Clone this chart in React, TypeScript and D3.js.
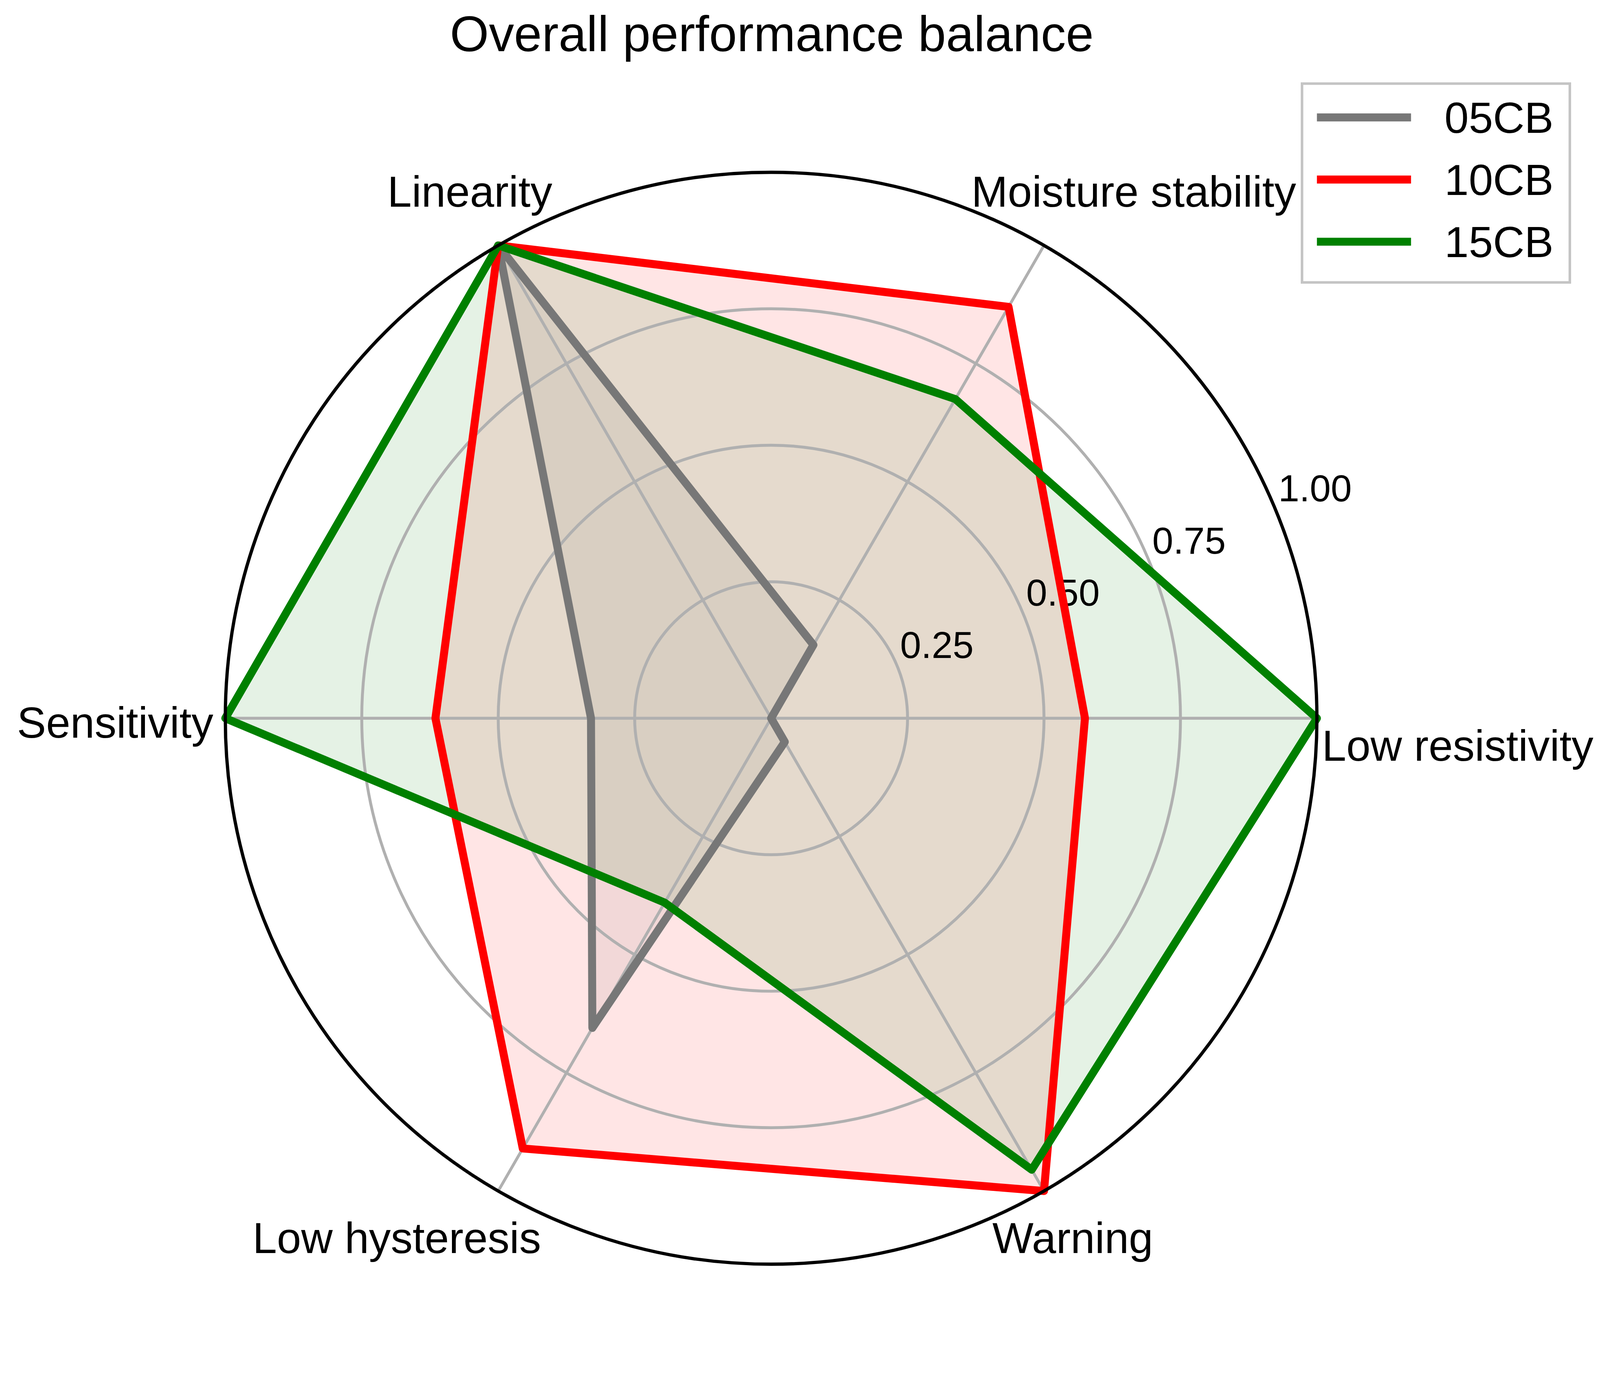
import React from "react";
import * as d3 from "d3";

// axis names, counter-clockwise from 3 o'clock
const categories = [
  "Low resistivity",
  "Moisture stability",
  "Linearity",
  "Sensitivity",
  "Low hysteresis",
  "Warning",
];

const seriesNames = ["05CB", "10CB", "15CB"];
const values05CB = [0.0, 0.155, 1.0, 0.33, 0.655, 0.05];
const values10CB = [0.575, 0.87, 1.0, 0.615, 0.91, 1.0];
const values15CB = [1.0, 0.675, 1.0, 1.0, 0.39, 0.955];
const radialTicks = [0.25, 0.5, 0.75, 1.0];

const seriesColors = ["#777777", "#ff0000", "#008000"];

// where each axis label sits relative to its spoke end (px)
const labelLayout = [
  { anchor: "start", dx: 14, dy: 117 },
  { anchor: "middle", dx: 247, dy: -107 },
  { anchor: "middle", dx: -78, dy: -107 },
  { anchor: "end", dx: -33, dy: 54 },
  { anchor: "middle", dx: -279, dy: 171 },
  { anchor: "middle", dx: 79, dy: 171 },
];

const FONT = "'Liberation Sans', Arial, sans-serif";

export default function App() {
  const width = 4403;
  const height = 3514;
  const cx = 2122;
  const cy = 1976;
  const R = 1502;
  const lineW = 22;

  const rScale = d3.scaleLinear().domain([0, 1]).range([0, R]);
  const n = categories.length;
  // math angle (ccw from east)
  const theta = (i: number) => (i * 2 * Math.PI) / n;
  const px = (i: number, v: number) => cx + rScale(v) * Math.cos(theta(i));
  const py = (i: number, v: number) => cy - rScale(v) * Math.sin(theta(i));

  const radial = d3
    .lineRadial<number>()
    .angle((_, i) => Math.PI / 2 - theta(i))
    .radius((d) => rScale(d))
    .curve(d3.curveLinearClosed);

  const allSeries = [values05CB, values10CB, values15CB];
  const tickAngle = (22.5 * Math.PI) / 180;

  return (
    <svg
      viewBox={`0 0 ${width} ${height}`}
      preserveAspectRatio="xMinYMin meet"
      style={{ position: "fixed", left: 0, top: 0, width: "100vw", height: "100vh", background: "#fff" }}
      fontFamily={FONT}
    >
      <rect width={width} height={height} fill="#fff" />
      <text x={2124} y={141} fontSize={138} textAnchor="middle" fill="#000">
        Overall performance balance
      </text>

      {/* translucent fills sit under the grid */}
      <g transform={`translate(${cx},${cy})`}>
        {allSeries.map((vals, s) => (
          <path
            key={"f" + seriesNames[s]}
            d={radial(vals) || ""}
            fill={seriesColors[s]}
            fillOpacity={0.1}
            stroke="none"
          />
        ))}
      </g>

      {/* grid circles */}
      {radialTicks.slice(0, -1).map((t) => (
        <circle key={t} cx={cx} cy={cy} r={rScale(t)} fill="none" stroke="#b0b0b0" strokeWidth={8} />
      ))}
      {/* spokes */}
      {categories.map((c, i) => (
        <line
          key={c}
          x1={cx}
          y1={cy}
          x2={px(i, 1)}
          y2={py(i, 1)}
          stroke="#b0b0b0"
          strokeWidth={8}
        />
      ))}

      {/* radial tick labels */}
      {radialTicks.map((t) => (
        <text
          key={"t" + t}
          x={cx + rScale(t) * Math.cos(tickAngle) + 8}
          y={cy - rScale(t) * Math.sin(tickAngle) - 22}
          fontSize={104}
          fill="#000"
        >
          {t.toFixed(2)}
        </text>
      ))}

      {/* outlines */}
      <g transform={`translate(${cx},${cy})`}>
        {allSeries.map((vals, s) => (
          <path
            key={"s" + seriesNames[s]}
            d={radial(vals) || ""}
            fill="none"
            stroke={seriesColors[s]}
            strokeWidth={lineW}
            strokeLinejoin="round"
          />
        ))}
      </g>

      {/* outer frame */}
      <circle cx={cx} cy={cy} r={R} fill="none" stroke="#000" strokeWidth={9} />

      {/* axis labels */}
      {categories.map((c, i) => (
        <text
          key={"l" + c}
          x={px(i, 1) + labelLayout[i].dx}
          y={py(i, 1) + labelLayout[i].dy}
          fontSize={120}
          textAnchor={labelLayout[i].anchor}
          fill="#000"
        >
          {c}
        </text>
      ))}

      {/* legend */}
      <g>
        <rect
          x={3583}
          y={230}
          width={737}
          height={547}
          fill="#fff"
          fillOpacity={0.8}
          stroke="#c4c4c4"
          strokeWidth={7}
        />
        {seriesNames.map((name, s) => {
          const ly = 323 + s * 171;
          return (
            <g key={"lg" + name}>
              <line x1={3624} x2={3883} y1={ly} y2={ly} stroke={seriesColors[s]} strokeWidth={lineW} />
              <text x={3975} y={ly + 42} fontSize={120} fill="#000">
                {name}
              </text>
            </g>
          );
        })}
      </g>
    </svg>
  );
}
